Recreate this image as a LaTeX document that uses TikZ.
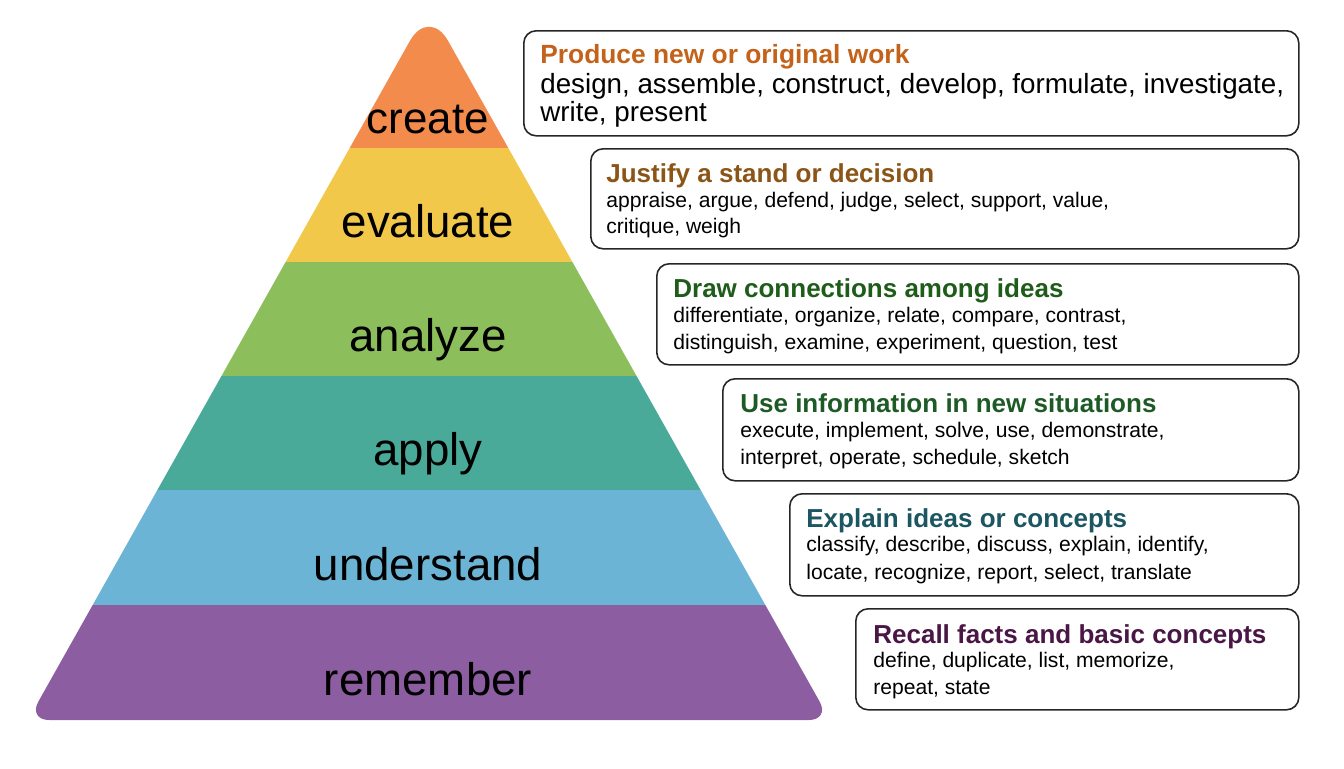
\documentclass[tikz,border=0pt]{standalone}
\usepackage{fontspec}
\setmainfont{Liberation Sans}
\definecolor{tiercreate}{HTML}{F28B4C}
\definecolor{tierevaluate}{HTML}{F2C84B}
\definecolor{tieranalyze}{HTML}{8CBF5B}
\definecolor{tierapply}{HTML}{4AAA9A}
\definecolor{tierunderstand}{HTML}{6CB4D5}
\definecolor{tierremember}{HTML}{8C5DA1}
\definecolor{headcreate}{HTML}{C4621A}
\definecolor{headevaluate}{HTML}{8B5518}
\definecolor{headanalyze}{HTML}{1E5C1A}
\definecolor{headapply}{HTML}{1D5A26}
\definecolor{headunderstand}{HTML}{1B5662}
\definecolor{headremember}{HTML}{4A1646}
\tikzset{
  tierlabel/.style={anchor=base, inner sep=0pt, font=\fontsize{26}{30}\selectfont},
  verbbox/.style={draw=black!85, line width=0.9pt, rounded corners=7pt,
                  anchor=north west, inner sep=0pt, fill=white},
  verbhead/.style={anchor=base west, inner sep=0pt, font=\bfseries\fontsize{14.8}{17}\selectfont},
  verbline/.style={anchor=base west, inner sep=0pt, font=\fontsize{12}{14}\selectfont},
}

\begin{document}
\begin{tikzpicture}[x=0.02cm, y=-0.02cm]
    \useasboundingbox (0,0) rectangle (1344,768);
    % pyramid
    \begin{scope}
      \clip (429,720) [rounded corners=12] -- (28,720) [rounded corners=22] -- (429,7) [rounded corners=12] -- (830,720) -- cycle;
      \fill[tiercreate]     (0,0)   rectangle (900,148);
      \fill[tierevaluate]   (0,148) rectangle (900,262);
      \fill[tieranalyze]    (0,262) rectangle (900,376);
      \fill[tierapply]      (0,376) rectangle (900,490);
      \fill[tierunderstand] (0,490) rectangle (900,605);
      \fill[tierremember]   (0,605) rectangle (900,730);
    \end{scope}
    \node[tierlabel, font=\fontsize{25}{30}\selectfont] (t1) at (428,133) {create};
    \node[tierlabel] (t2) at (428,237) {evaluate};
    \node[tierlabel] (t3) at (428,351) {analyze};
    \node[tierlabel] (t4) at (428,465) {apply};
    \node[tierlabel] (t5) at (428,580) {understand};
    \node[tierlabel] (t6) at (428,695) {remember};
    % boxes
    \node[verbbox, minimum width=775*0.02cm, minimum height=105*0.02cm] (b1) at (523,30) {};
    \node[verbbox, minimum width=708*0.02cm, minimum height=100*0.02cm] (b2) at (590,148) {};
    \node[verbbox, minimum width=642*0.02cm, minimum height=101*0.02cm] (b3) at (656,263) {};
    \node[verbbox, minimum width=576*0.02cm, minimum height=102*0.02cm] (b4) at (722,378) {};
    \node[verbbox, minimum width=509*0.02cm, minimum height=102*0.02cm] (b5) at (789,493) {};
    \node[verbbox, minimum width=443*0.02cm, minimum height=101*0.02cm] (b6) at (855,608) {};
    \node[verbhead, headcreate, font=\bfseries\fontsize{15}{18}\selectfont] (h1) at (540,63) {Produce new or original work};
    \node[verbline, font=\fontsize{15.8}{18}\selectfont] (l1a) at (540,93) {design, assemble, construct, develop, formulate, investigate,};
    \node[verbline, font=\fontsize{15.8}{18}\selectfont] (l1b) at (540,121) {write, present};
    \node[verbhead, headevaluate] (h2) at (606,182) {Justify a stand or decision};
    \node[verbline] (l2a) at (606,207) {appraise, argue, defend, judge, select, support, value,};
    \node[verbline] (l2b) at (606,233) {critique, weigh};
    \node[verbhead, headanalyze] (h3) at (673,297) {Draw connections among ideas};
    \node[verbline] (l3a) at (673,322) {differentiate, organize, relate, compare, contrast,};
    \node[verbline] (l3b) at (673,349) {distinguish, examine, experiment, question, test};
    \node[verbhead, headapply] (h4) at (740,412) {Use information in new situations};
    \node[verbline] (l4a) at (740,437) {execute, implement, solve, use, demonstrate,};
    \node[verbline] (l4b) at (740,464) {interpret, operate, schedule, sketch};
    \node[verbhead, headunderstand] (h5) at (806,527) {Explain ideas or concepts};
    \node[verbline] (l5a) at (806,551) {classify, describe, discuss, explain, identify,};
    \node[verbline] (l5b) at (806,579) {locate, recognize, report, select, translate};
    \node[verbhead, headremember] (h6) at (873,643) {Recall facts and basic concepts};
    \node[verbline] (l6a) at (873,667) {define, duplicate, list, memorize,};
    \node[verbline] (l6b) at (873,694) {repeat, state};
  \end{tikzpicture}
\end{document}
